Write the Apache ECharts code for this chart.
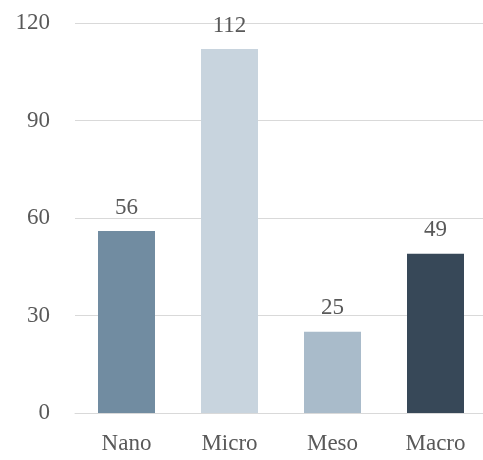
<!DOCTYPE html>
<html>
<head>
<meta charset="utf-8">
<script src="https://cdn.jsdelivr.net/npm/echarts@6/dist/echarts.min.js"></script>
<style>
  html, body { margin: 0; padding: 0; background: #ffffff; overflow: hidden; }
  #chart { width: 487px; height: 460px; }
</style>
</head>
<body>
<div id="chart"></div>
<script>
// Scale categories and their counts
const categories = ['Nano', 'Micro', 'Meso', 'Macro'];
const counts = [56, 112, 25, 49];
const barColors = ['#718ca1', '#c8d4de', '#a9bbca', '#374858'];

const yMin = 0;
const yMax = 120;
const yStep = 30;

const fontFamily = '"Liberation Serif", "Times New Roman", serif';
const textColor = '#595959';
const gridColor = '#d9d9d9';

const chart = echarts.init(document.getElementById('chart'), null, { renderer: 'canvas' });

chart.setOption({
  animation: false,
  // the plot area runs slightly past the right edge of the page
  grid: { left: 75, top: 23, right: 0, bottom: 47 },
  xAxis: {
    type: 'category',
    data: categories,
    axisLine: { show: true, lineStyle: { color: gridColor, width: 1 } },
    axisTick: { show: false },
    axisLabel: { color: textColor, fontFamily: fontFamily, fontSize: 23, margin: 19 }
  },
  yAxis: {
    type: 'value',
    min: yMin,
    max: yMax,
    interval: yStep,
    axisLine: { show: false },
    axisTick: { show: false },
    splitLine: { lineStyle: { color: gridColor, width: 1 } },
    axisLabel: { color: textColor, fontFamily: fontFamily, fontSize: 23, margin: 25 }
  },
  series: [{
    type: 'bar',
    data: counts.map((v, i) => ({ value: v, itemStyle: { color: barColors[i] } })),
    barWidth: 57,
    label: {
      show: true,
      position: 'top',
      distance: 12,
      color: textColor,
      fontFamily: fontFamily,
      fontSize: 23
    }
  }]
});
</script>
</body>
</html>
